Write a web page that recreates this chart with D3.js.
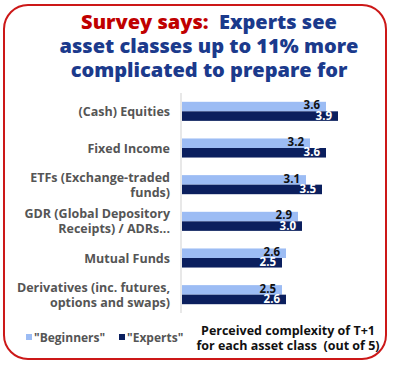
<!DOCTYPE html>
<html>
<head>
<meta charset="utf-8">
<script src="https://cdn.jsdelivr.net/npm/d3@7"></script>
<style>
  body { margin: 0; background: #fff; }
  svg { display: block; font-family: "Open Sans", sans-serif; }
</style>
</head>
<body>
<div id="chart"></div>
<script>
// categories (each entry is the lines of the axis label)
const categories = [
  ["(Cash) Equities"],
  ["Fixed Income"],
  ["ETFs (Exchange-traded", "funds)"],
  ["GDR (Global Depository", "Receipts) / ADRs..."],
  ["Mutual Funds"],
  ["Derivatives (inc. futures,", "options and swaps)"]
];
const beginners = [3.6, 3.2, 3.1, 2.9, 2.6, 2.5];
const experts = [3.9, 3.6, 3.5, 3.0, 2.5, 2.6];
const seriesNames = ['"Beginners"', '"Experts"'];
const titleLines = [
  [["Survey says:", "#c00000"], ["  Experts see", "#1b3a8c"]],
  [["asset classes up to 11% more", "#1b3a8c"]],
  [["complicated to prepare for", "#1b3a8c"]]
];
const axisNote = ["Perceived complexity of T+1", "for each asset class  (out of 5)"];

const width = 396, height = 366;
const colors = ["#9cbcf4", "#0b1f5e"];

const svg = d3.select("#chart").append("svg")
  .attr("width", width)
  .attr("height", height);

// red rounded frame
svg.append("rect")
  .attr("x", 4).attr("y", 5)
  .attr("width", 382).attr("height", 354)
  .attr("rx", 24).attr("ry", 24)
  .attr("fill", "none")
  .attr("stroke", "#cc1818")
  .attr("stroke-width", 2);

// title
const title = svg.append("text")
  .attr("text-anchor", "middle")
  .style("font-size", "20px")
  .style("font-weight", 800);
titleLines.forEach(function(line, i) {
  const t = title.append("tspan")
    .attr("x", 209)
    .attr("y", 29 + i * 24);
  line.forEach(function(part) {
    t.append("tspan").attr("fill", part[1]).style("white-space", "pre").text(part[0]);
  });
});

// scales
const x = d3.scaleLinear().domain([0, 5]).range([182, 382]);
const y = d3.scaleBand().domain(d3.range(categories.length)).range([93, 313]).paddingInner(0.48).paddingOuter(0.24);
const sub = d3.scaleBand().domain([0, 1]).range([0, y.bandwidth()]);

// vertical axis line
svg.append("line")
  .attr("x1", 181).attr("x2", 181)
  .attr("y1", 93).attr("y2", 313)
  .attr("stroke", "#d9d9d9").attr("stroke-width", 1.2);

// category labels
categories.forEach(function(lines, i) {
  const cy = y(i) + y.bandwidth() / 2;
  const t = svg.append("text")
    .attr("text-anchor", "end")
    .attr("fill", "#555")
    .style("font-size", "12.5px")
    .style("font-weight", 700);
  lines.forEach(function(l, j) {
    t.append("tspan")
      .attr("x", 170)
      .attr("y", cy + 4.5 + (j - (lines.length - 1) / 2) * 15)
      .text(l);
  });
});

// bars
const groups = [beginners, experts];
groups.forEach(function(vals, s) {
  svg.selectAll(".bar" + s)
    .data(vals)
    .enter().append("rect")
    .attr("x", x(0))
    .attr("y", (d, i) => y(i) + sub(s))
    .attr("width", d => x(d) - x(0))
    .attr("height", sub.bandwidth())
    .attr("fill", colors[s]);

  svg.selectAll(".val" + s)
    .data(vals)
    .enter().append("text")
    .attr("x", d => x(d) - 6)
    .attr("y", (d, i) => y(i) + (s === 0 ? 7.5 : 18))
    .attr("text-anchor", "end")
    .attr("fill", s === 0 ? "#111" : "#fff")
    .style("font-size", "11.5px")
    .style("font-weight", 700)
    .text(d => d.toFixed(1));
});

// legend
const legend = svg.append("g");
seriesNames.forEach(function(name, i) {
  const lx = i === 0 ? 26 : 119;
  legend.append("rect")
    .attr("x", lx).attr("y", 334)
    .attr("width", 6).attr("height", 6)
    .attr("fill", colors[i]);
  legend.append("text")
    .attr("x", lx + 8).attr("y", 342)
    .attr("fill", "#555")
    .style("font-size", "12px")
    .style("font-weight", 700)
    .text(name);
});

// axis note
const note = svg.append("text")
  .attr("text-anchor", "middle")
  .attr("fill", "#111")
  .style("font-size", "12.5px")
  .style("font-weight", 700);
axisNote.forEach(function(l, i) {
  note.append("tspan")
    .attr("x", 288).attr("y", 335 + i * 15)
    .style("white-space", "pre")
    .text(l);
});
</script>
</body>
</html>
